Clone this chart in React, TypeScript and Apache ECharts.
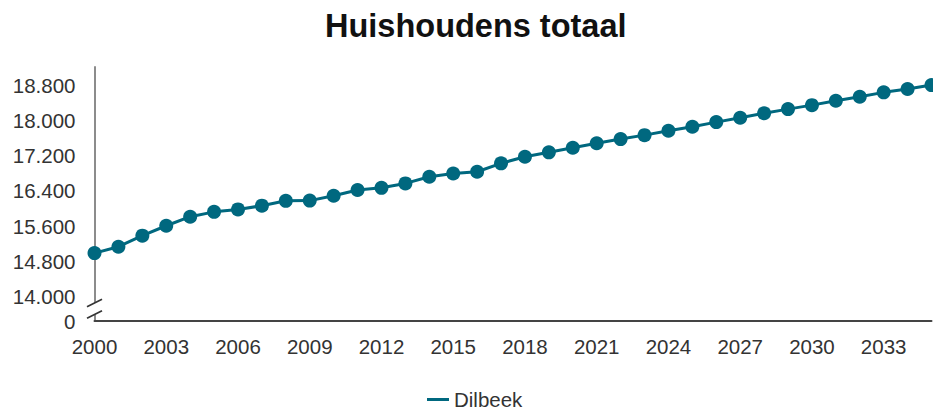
import React, { useEffect, useRef } from "react";
import * as echarts from "echarts";

const years: string[] = [
  "2000", "2001", "2002", "2003", "2004", "2005", "2006", "2007", "2008", "2009",
  "2010", "2011", "2012", "2013", "2014", "2015", "2016", "2017", "2018", "2019",
  "2020", "2021", "2022", "2023", "2024", "2025", "2026", "2027", "2028", "2029",
  "2030", "2031", "2032", "2033", "2034", "2035",
];

const dilbeek: number[] = [
  14990, 15135, 15385, 15610, 15815, 15925, 15980, 16065, 16175, 16180,
  16290, 16420, 16470, 16570, 16720, 16795, 16835, 17025, 17175, 17275,
  17380, 17480, 17575, 17665, 17765, 17855, 17960, 18060, 18160, 18255,
  18345, 18445, 18535, 18635, 18710, 18800,
];

const yTickValues: number[] = [14000, 14800, 15600, 16400, 17200, 18000, 18800];
const yBreakValue = 13450; // bottom of the broken axis, labelled "0"
const yMax = 19210;

const seriesName = "Dilbeek";
const titleText = "Huishoudens totaal";

const FONT = "'Liberation Sans', Arial, sans-serif";
const TEAL = "#00687f";

function fmt(v: number): string {
  return String(Math.round(v)).replace(/\B(?=(\d{3})+(?!\d))/g, ".");
}

export default function App() {
  const ref = useRef<HTMLDivElement>(null);

  useEffect(() => {
    document.body.style.margin = "0";
    if (!ref.current) return;
    const chart = echarts.init(ref.current, undefined, { renderer: "svg" });
    const option: any = {
      animation: false,
      backgroundColor: "#ffffff",
      title: {
        text: titleText,
        left: 325,
        top: 9,
        padding: 0,
        textStyle: { fontFamily: FONT, fontSize: 32.5, fontWeight: "bold", color: "#111" },
      },
      legend: {
        data: [seriesName],
        left: 427,
        top: 389,
        padding: 0,
        icon: "rect",
        itemWidth: 22,
        itemHeight: 3,
        itemGap: 10,
        textStyle: { fontFamily: FONT, fontSize: 20.5, color: "#333", lineHeight: 21 },
      },
      grid: { left: 94.5, right: 1.5, top: 67, bottom: 90, containLabel: false },
      xAxis: {
        type: "category",
        data: years,
        boundaryGap: false,
        axisLine: { show: true, lineStyle: { color: "#444", width: 2 } },
        axisTick: { show: false },
        axisLabel: {
          interval: 2,
          margin: 15,
          fontFamily: FONT,
          fontSize: 20.5,
          color: "#333",
        },
        splitLine: { show: false },
      },
      yAxis: {
        type: "value",
        min: yBreakValue,
        max: yMax,
        axisLine: { show: true, lineStyle: { color: "#8c8c8c", width: 2 } },
        axisTick: { show: false },
        splitLine: { show: false },
        axisLabel: {
          customValues: [yBreakValue, ...yTickValues],
          margin: 19,
          fontFamily: FONT,
          fontSize: 20.5,
          color: "#333",
          formatter: (v: number) => (v <= yBreakValue + 1 ? "0" : fmt(v)),
        },
      },
      series: [
        {
          name: seriesName,
          type: "line",
          data: dilbeek,
          color: TEAL,
          symbol: "circle",
          symbolSize: 14,
          showSymbol: true,
          lineStyle: { width: 3, color: TEAL },
          itemStyle: { color: TEAL },
          clip: false,
        },
      ],
    };
    chart.setOption(option);

    const o = chart.convertToPixel({ xAxisIndex: 0, yAxisIndex: 0 }, [0, yBreakValue]) as number[];
    const ox = o[0];
    const oy = o[1];
    const slash = (cy: number) => ({
      type: "line",
      shape: { x1: ox - 7.5, y1: cy + 3.7, x2: ox + 7.5, y2: cy - 3.7 },
      style: { stroke: "#333", lineWidth: 1.6 },
      z: 101,
    });
    chart.setOption({
      graphic: [
        {
          type: "rect",
          shape: { x: ox - 3, y: oy - 18, width: 6, height: 11.5 },
          style: { fill: "#ffffff" },
          z: 100,
        },
        slash(oy - 18),
        slash(oy - 6.5),
      ],
    });

    return () => chart.dispose();
  }, []);

  return <div ref={ref} style={{ width: 933, height: 411 }} />;
}
